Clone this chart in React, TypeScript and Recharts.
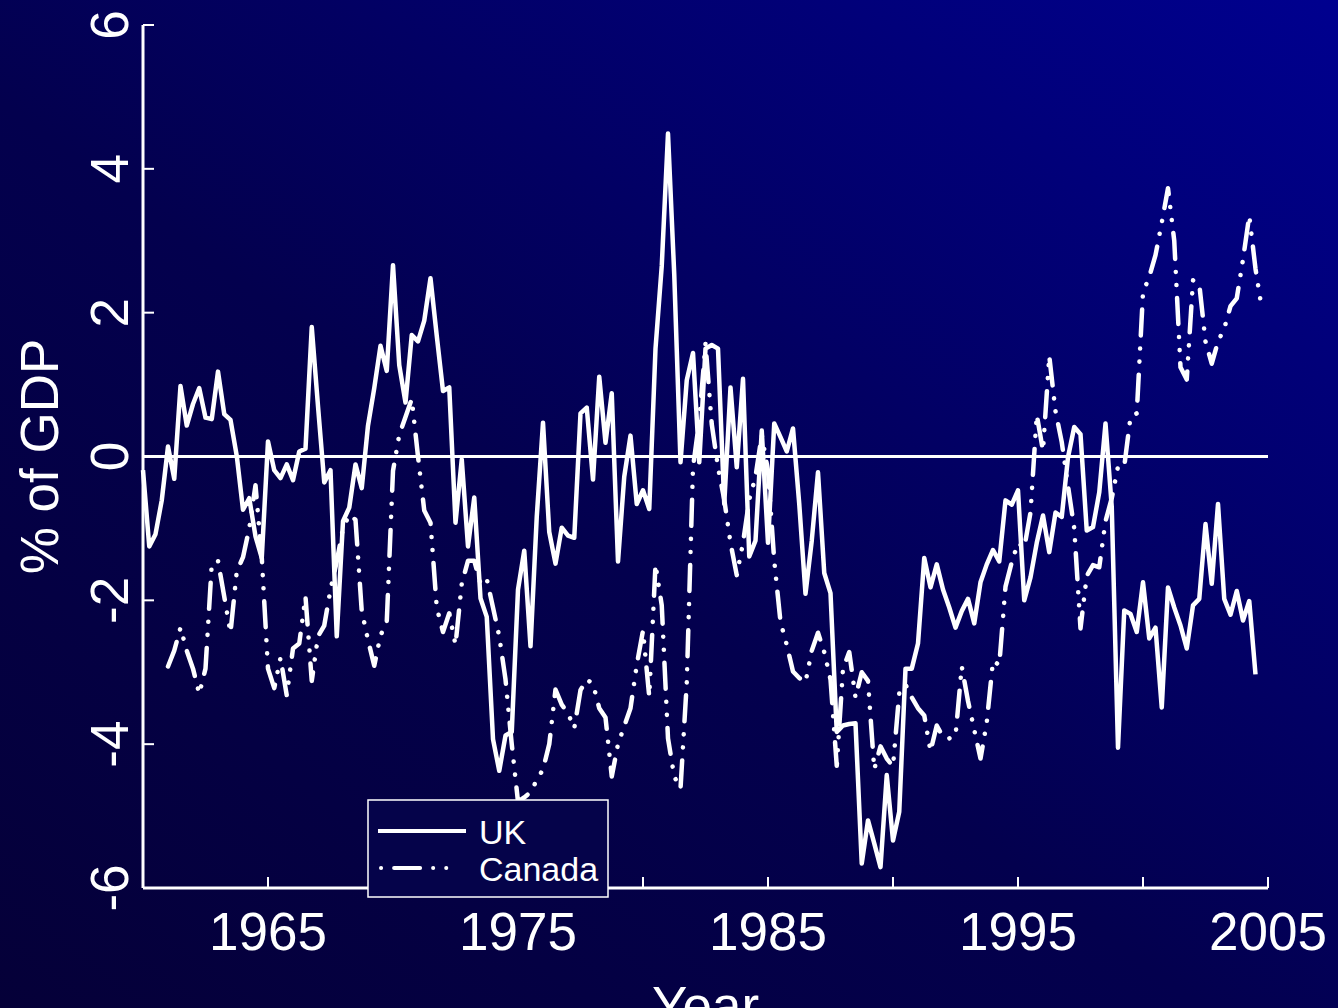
import React from 'react'
import { LineChart, Line, XAxis, YAxis, ReferenceLine, Legend } from 'recharts'

// quarterly series, first point = 1960 Q1
const startYear = 1960
const xTicks = [1965, 1970, 1975, 1980, 1985, 1990, 1995, 2000, 2005]
const xLabels = [1965, 1975, 1985, 1995, 2005]
const yTicks = [-6, -4, -2, 0, 2, 4, 6]

// UK current account, % of GDP (one row per year, Q1..Q4)
const ukValues: (number | null)[] = [
  -0.19, -1.25, -1.08, -0.61,
  0.14, -0.31, 0.98, 0.43,
  0.73, 0.95, 0.54, 0.52,
  1.18, 0.59, 0.51, 0.01,
  -0.74, -0.58, -1.11, -1.41,
  0.21, -0.19, -0.3, -0.11,
  -0.33, 0.07, 0.11, 1.8,
  0.7, -0.36, -0.19, -2.5,
  -0.9, -0.71, -0.11, -0.44,
  0.43, 0.95, 1.54, 1.19,
  2.66, 1.27, 0.75, 1.69,
  1.6, 1.89, 2.48, 1.68,
  0.91, 0.96, -0.92, -0.04,
  -1.25, -0.57, -1.97, -2.23,
  -3.93, -4.37, -3.88, -3.83,
  -1.85, -1.31, -2.64, -0.84,
  0.47, -1.05, -1.49, -0.99,
  -1.1, -1.13, 0.6, 0.68,
  -0.32, 1.11, 0.19, 0.88,
  -1.46, -0.28, 0.29, -0.66,
  -0.47, -0.73, 1.5, 2.65,
  4.49, 2.53, -0.08, 1.06,
  1.44, -0.08, 1.5, 1.55,
  1.5, -0.66, 0.96, -0.15,
  1.08, -1.39, -1.17, 0.36,
  -1.2, 0.46, 0.27, 0.07,
  0.39, -0.66, -1.91, -1.17,
  -0.22, -1.62, -1.9, -3.83,
  -3.74, -3.72, -3.71, -5.66,
  -5.06, -5.38, -5.71, -4.43,
  -5.34, -4.94, -2.95, -2.95,
  -2.6, -1.41, -1.82, -1.5,
  -1.85, -2.1, -2.38, -2.15,
  -1.98, -2.32, -1.75, -1.5,
  -1.3, -1.46, -0.61, -0.67,
  -0.47, -2.0, -1.68, -1.2,
  -0.82, -1.33, -0.78, -0.84,
  -0.01, 0.41, 0.31, -1.03,
  -0.98, -0.5, 0.46, -0.7,
  -4.05, -2.14, -2.19, -2.44,
  -1.75, -2.53, -2.38, -3.49,
  -1.82, -2.1, -2.35, -2.67,
  -2.07, -1.98, -0.94, -1.77,
  -0.66, -1.98, -2.2, -1.87,
  -2.28, -2.01, -3.03, null,
]

// Canada current account, % of GDP
const canadaValues: (number | null)[] = [
  null, null, null, null,
  -2.92, -2.7, -2.38, -2.7,
  -2.95, -3.3, -2.95, -1.5,
  -1.45, -1.95, -2.45, -1.6,
  -1.4, -1.0, -0.4, -1.4,
  -2.95, -3.22, -2.8, -3.32,
  -2.67, -2.6, -1.95, -3.12,
  -2.5, -2.35, -1.85, -1.46,
  -1.0, -0.81, -0.88, -2.15,
  -2.55, -2.91, -2.49, -2.3,
  -0.2, 0.3, 0.55, 0.8,
  0.0, -0.75, -0.92, -2.1,
  -2.44, -2.18, -2.62, -1.77,
  -1.45, -1.45, -1.77, -1.7,
  -2.1, -2.5, -3.1, -4.0,
  -4.8, -4.74, -4.67, -4.5,
  -4.35, -4.0, -3.24, -3.45,
  -3.57, -3.78, -3.25, -3.1,
  -3.16, -3.5, -3.63, -4.45,
  -4.0, -3.75, -3.5, -2.9,
  -2.42, -3.34, -1.5, -2.07,
  -3.92, -4.45, -4.62, -3.15,
  -0.15, 0.5, 1.57, 0.45,
  -0.15, -0.6, -1.2, -1.65,
  -1.2, -0.6, -0.28, 0.3,
  -0.2, -1.45, -2.3, -2.62,
  -2.99, -3.08, -3.14, -2.7,
  -2.45, -2.72, -3.1, -4.3,
  -2.95, -2.72, -3.35, -3.0,
  -3.12, -4.35, -4.03, -4.2,
  -4.31, -3.29, -3.17, -3.35,
  -3.5, -3.6, -4.1, -3.74,
  -3.9, -3.92, -3.89, -2.92,
  -3.4, -3.8, -4.2, -3.7,
  -2.84, -2.9, -1.81, -1.47,
  -1.2, -1.27, -0.78, 0.58,
  0.08, 1.4, 0.63, 0.2,
  -0.41, -1.0, -2.39, -1.66,
  -1.51, -1.54, -0.9, -0.58,
  -0.14, -0.14, 0.55, 0.6,
  2.28, 2.5, 2.8, 3.25,
  3.73, 3.0, 1.24, 1.07,
  2.45, 2.4, 1.6, 1.29,
  1.6, 1.78, 2.09, 2.2,
  2.74, 3.35, 2.61, 2.06,
]

const data = ukValues.map((uk, i) => ({
  t: startYear + i / 4,
  uk,
  canada: canadaValues[i],
}))

const FONT = '"Liberation Sans", Arial, sans-serif'
const WHITE = '#ffffff'
const CANADA_DASH = '26 13 0.1 13 0.1 13'

const XTick = (props: any) => {
  const { x, y, payload } = props
  return (
    <g>
      <line x1={x} y1={y} x2={x} y2={y - 11} stroke={WHITE} strokeWidth={2} />
      {xLabels.includes(payload.value) && (
        <text x={x} y={y + 62} textAnchor="middle" fill={WHITE} fontSize={53} fontFamily={FONT}>
          {payload.value}
        </text>
      )}
    </g>
  )
}

const YTick = (props: any) => {
  const { x, y, payload } = props
  const tx = x - 15
  return (
    <g>
      <line x1={x} y1={y} x2={x + 11} y2={y} stroke={WHITE} strokeWidth={2} />
      <text
        x={tx}
        y={y}
        transform={`rotate(-90 ${tx} ${y})`}
        textAnchor="middle"
        fill={WHITE}
        fontSize={53}
        fontFamily={FONT}
      >
        {payload.value}
      </text>
    </g>
  )
}

// axis title sits low, partly below the frame as in the original
const XTitle = (props: any) => {
  const vb = props.viewBox
  return (
    <text x={vb.x + vb.width / 2} y={vb.y + 136} textAnchor="middle" fill={WHITE} fontSize={53} fontFamily={FONT}>
      Year
    </text>
  )
}

const YTitle = (props: any) => {
  const vb = props.viewBox
  const cy = vb.y + vb.height / 2
  return (
    <text
      x={58}
      y={cy}
      transform={`rotate(-90 58 ${cy})`}
      textAnchor="middle"
      fill={WHITE}
      fontSize={53}
      fontFamily={FONT}
    >
      % of GDP
    </text>
  )
}

const LegendBox = () => (
  <svg width={242} height={99} style={{ display: 'block' }}>
    <rect x={1} y={1} width={240} height={97} fill="#05034a" stroke={WHITE} strokeWidth={1.5} />
    <line x1={11} y1={32} x2={99} y2={32} stroke={WHITE} strokeWidth={4} />
    <text x={112} y={45} fill={WHITE} fontSize={34} fontFamily={FONT}>UK</text>
    <line
      x1={14}
      y1={69}
      x2={80}
      y2={69}
      stroke={WHITE}
      strokeWidth={4}
      strokeLinecap="round"
      strokeDasharray={CANADA_DASH}
      strokeDashoffset={52.1}
    />
    <text x={112} y={82} fill={WHITE} fontSize={34} fontFamily={FONT}>Canada</text>
  </svg>
)

export default function App() {
  return (
    <div
      style={{
        position: 'absolute',
        left: 0,
        top: 0,
        width: 1338,
        height: 1008,
        overflow: 'hidden',
        background: 'linear-gradient(to top right, #050038 0%, #03004e 45%, #00008f 100%)',
      }}
    >
      <LineChart width={1338} height={1008} data={data} margin={{ top: 25, right: 70, bottom: 0, left: 0 }}>
        <XAxis
          type="number"
          dataKey="t"
          domain={[1960, 2005]}
          ticks={xTicks}
          interval={0}
          tick={XTick}
          tickLine={false}
          tickSize={0}
          tickMargin={0}
          height={120}
          axisLine={{ stroke: WHITE, strokeWidth: 3 }}
          label={{ content: XTitle }}
        />
        <YAxis
          type="number"
          domain={[-6, 6]}
          ticks={yTicks}
          interval={0}
          tick={YTick}
          tickLine={false}
          tickSize={0}
          tickMargin={0}
          width={143}
          axisLine={{ stroke: WHITE, strokeWidth: 3 }}
          label={{ content: YTitle }}
        />
        <ReferenceLine y={0} stroke={WHITE} strokeWidth={3} />
        <Line
          dataKey="uk"
          name="UK"
          stroke={WHITE}
          strokeWidth={4.5}
          strokeLinejoin="round"
          dot={false}
          isAnimationActive={false}
        />
        <Line
          dataKey="canada"
          name="Canada"
          stroke={WHITE}
          strokeWidth={4.5}
          strokeLinejoin="round"
          strokeLinecap="round"
          strokeDasharray={CANADA_DASH}
          dot={false}
          isAnimationActive={false}
        />
        <Legend
          layout="vertical"
          align="center"
          verticalAlign="middle"
          content={LegendBox}
          wrapperStyle={{ position: 'absolute', left: 367, top: 799, width: 242, height: 99 }}
        />
      </LineChart>
    </div>
  )
}
